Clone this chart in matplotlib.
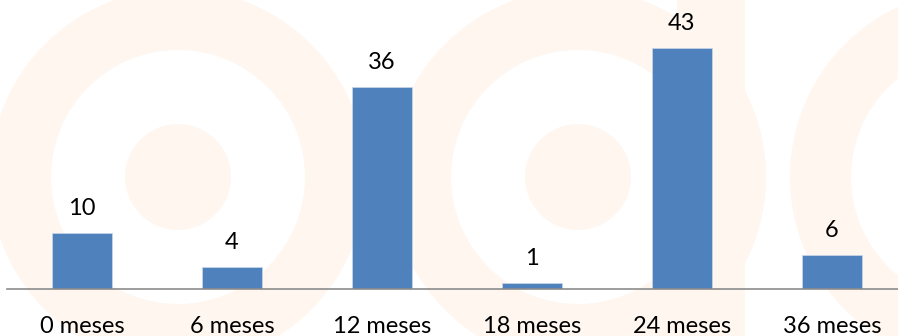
import matplotlib.pyplot as plt
from matplotlib.patches import Circle, Rectangle

categories = ["0 meses", "6 meses", "12 meses", "18 meses", "24 meses", "36 meses"]
values = [10, 4, 36, 1, 43, 6]

bar_color = "#4F81BD"
wm_color = "#FEF6EF"

plt.rcParams['font.family'] = ['Lato', 'DejaVu Sans']

fig = plt.figure(figsize=(8.98, 3.36), dpi=100)

# faint logo watermark in the background (pixel coords, y from top)
bg = fig.add_axes([0, 0, 1, 1], zorder=0)
bg.set_xlim(0, 898)
bg.set_ylim(336, 0)
bg.axis('off')
for cx in (178, 578, 978):
    bg.add_patch(Circle((cx, 177), 188, color=wm_color, lw=0))
    bg.add_patch(Circle((cx, 177), 127, color='white', lw=0))
    bg.add_patch(Circle((cx, 177), 53, color=wm_color, lw=0))
bg.add_patch(Rectangle((273, 0), 67, 10, color='white', lw=0))
bg.add_patch(Rectangle((677, 0), 68, 336, color=wm_color, lw=0))

ax = fig.add_axes([7 / 898, 47 / 336, 900 / 898, 280 / 336], zorder=1)
ax.patch.set_alpha(0)
x = range(len(categories))
bars = ax.bar(x, values, width=0.4, color=bar_color, edgecolor='#c9d7ea', linewidth=0.5, zorder=2)

for xi, v in zip(x, values):
    ax.annotate(str(v), (xi, v), xytext=(0, 13), textcoords='offset points',
                ha='center', va='baseline', fontsize=17, color='black')

ax.set_xlim(-0.5, 5.5)
ax.set_ylim(0, 50)
ax.set_xticks(list(x))
ax.set_xticklabels(categories, fontsize=17)
ax.tick_params(axis='x', length=0, pad=19.5)
ax.set_yticks([])
for s in ('top', 'right', 'left'):
    ax.spines[s].set_visible(False)
ax.spines['bottom'].set_color('#8c8c8c')
ax.spines['bottom'].set_linewidth(1.2)

fig.savefig('out.png', dpi=100)
